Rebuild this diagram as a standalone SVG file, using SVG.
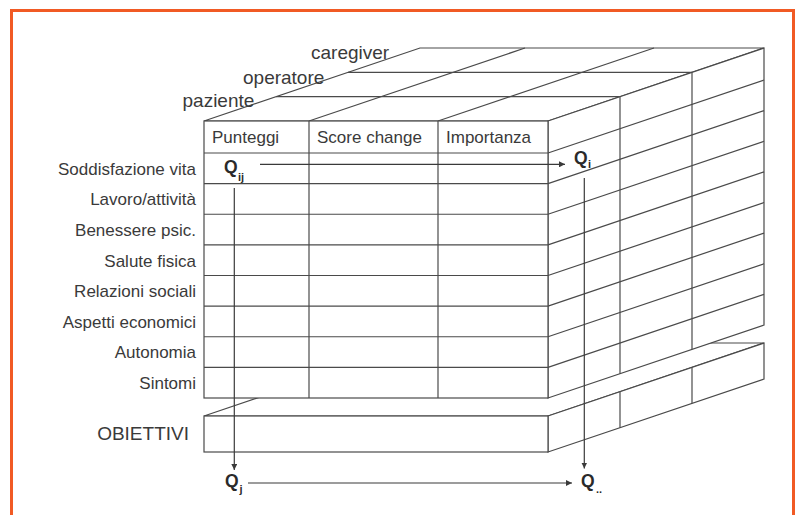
<svg xmlns="http://www.w3.org/2000/svg" width="797" height="515" viewBox="0 0 797 515">
  <defs>
    <style>
      .ln { stroke: #4a4a4a; stroke-width: 1.2; fill: none; }
      .face { stroke: #4a4a4a; stroke-width: 1.2; fill: #ffffff; stroke-linejoin: miter; }
      .lbl { font-family: "Liberation Sans", Arial, sans-serif; fill: #3a3a3a; }
      .row { font-size: 17px; text-anchor: end; }
      .hdr { font-size: 17px; }
      .big { font-size: 19px; }
      .q { font-family: "Liberation Sans", Arial, sans-serif; fill: #2a2a2a; font-weight: bold; font-size: 17.5px; }
      .qs { font-family: "Liberation Sans", Arial, sans-serif; fill: #2a2a2a; font-weight: bold; font-size: 11px; }
      .arr { stroke: #3a3a3a; stroke-width: 1.2; fill: none; marker-end: url(#ah); }
    </style>
    <marker id="ah" viewBox="0 0 10 10" refX="10" refY="5" markerWidth="6" markerHeight="6" markerUnits="userSpaceOnUse" orient="auto">
      <path d="M0,0 L10,5 L0,10 z" fill="#3a3a3a"/>
    </marker>
  </defs>

  <rect id="frame" x="11.5" y="10.5" width="782" height="530" fill="none" stroke="#f15a24" stroke-width="3"/>

  <!-- OBIETTIVI slab (behind cube) -->
  <g id="obiettivi">
    <polygon class="face" points="204,416 548,416 764,343 420,343"/>
    <polygon class="face" points="548,416 764,343 764,379 548,452"/>
    <rect class="face" x="204" y="416" width="344" height="36"/>
    <line class="ln" x1="620" y1="391.67" x2="620" y2="427.67"/>
    <line class="ln" x1="692" y1="367.33" x2="692" y2="403.33"/>
    <text class="lbl big" x="189" y="440" text-anchor="end">OBIETTIVI</text>
  </g>

  <!-- Cube -->
  <g id="cube-top">
    <polygon class="face" points="204,121 548,121 764,48 420,48"/>
    <line class="ln" x1="276" y1="96.67" x2="620" y2="96.67"/>
    <line class="ln" x1="348" y1="72.33" x2="692" y2="72.33"/>
    <line class="ln" x1="309" y1="121" x2="525" y2="48"/>
    <line class="ln" x1="438" y1="121" x2="654" y2="48"/>
  </g>

  <g id="cube-side">
    <polygon class="face" points="548,121 764,48 764,325 548,398"/>
    <line class="ln" x1="620" y1="96.67" x2="620" y2="373.67"/>
    <line class="ln" x1="692" y1="72.33" x2="692" y2="349.33"/>
    <line class="ln" x1="548" y1="153" x2="764" y2="80"/>
    <line class="ln" x1="548" y1="183.6" x2="764" y2="110.6"/>
    <line class="ln" x1="548" y1="214.25" x2="764" y2="141.25"/>
    <line class="ln" x1="548" y1="244.9" x2="764" y2="171.9"/>
    <line class="ln" x1="548" y1="275.5" x2="764" y2="202.5"/>
    <line class="ln" x1="548" y1="306.1" x2="764" y2="233.1"/>
    <line class="ln" x1="548" y1="336.75" x2="764" y2="263.75"/>
    <line class="ln" x1="548" y1="367.4" x2="764" y2="294.4"/>
  </g>

  <g id="cube-front">
    <rect class="face" x="204" y="121" width="344" height="277"/>
    <line class="ln" x1="309" y1="121" x2="309" y2="398"/>
    <line class="ln" x1="438" y1="121" x2="438" y2="398"/>
    <line class="ln" x1="204" y1="153" x2="548" y2="153"/>
    <line class="ln" x1="204" y1="183.6" x2="548" y2="183.6"/>
    <line class="ln" x1="204" y1="214.25" x2="548" y2="214.25"/>
    <line class="ln" x1="204" y1="244.9" x2="548" y2="244.9"/>
    <line class="ln" x1="204" y1="275.5" x2="548" y2="275.5"/>
    <line class="ln" x1="204" y1="306.1" x2="548" y2="306.1"/>
    <line class="ln" x1="204" y1="336.75" x2="548" y2="336.75"/>
    <line class="ln" x1="204" y1="367.4" x2="548" y2="367.4"/>
    <text class="lbl hdr" x="212" y="142.5">Punteggi</text>
    <text class="lbl hdr" x="317" y="142.5">Score change</text>
    <text class="lbl hdr" x="446" y="142.5">Importanza</text>
  </g>

  <g id="layer-labels">
    <text class="lbl big" x="311" y="58.5">caregiver</text>
    <text class="lbl big" x="243" y="83.5">operatore</text>
    <text class="lbl big" x="182.5" y="107">paziente</text>
  </g>

  <g id="row-labels">
    <text class="lbl row" x="196" y="174.8">Soddisfazione vita</text>
    <text class="lbl row" x="196" y="205.2">Lavoro/attività</text>
    <text class="lbl row" x="196" y="235.9">Benessere psic.</text>
    <text class="lbl row" x="196" y="266.5">Salute fisica</text>
    <text class="lbl row" x="196" y="297.1">Relazioni sociali</text>
    <text class="lbl row" x="196" y="327.7">Aspetti economici</text>
    <text class="lbl row" x="196" y="358.4">Autonomia</text>
    <text class="lbl row" x="196" y="389">Sintomi</text>
  </g>

  <g id="connectors">
    <line class="arr" x1="260" y1="164.3" x2="565" y2="164.3"/>
    <line class="arr" x1="234.3" y1="188" x2="234.3" y2="470"/>
    <line class="arr" x1="584.3" y1="178" x2="584.3" y2="468.5"/>
    <line class="arr" x1="248" y1="483" x2="572" y2="483"/>
  </g>

  <g id="q-ij">
    <text class="q" x="224" y="173">Q</text>
    <text class="qs" x="238" y="181">ij</text>
  </g>
  <g id="q-i">
    <text class="q" x="574" y="163.5">Q</text>
    <text class="qs" x="588" y="168">i</text>
  </g>
  <g id="q-j">
    <text class="q" x="225" y="487.3">Q</text>
    <text class="qs" x="239.5" y="493">j</text>
  </g>
  <g id="q-dd">
    <text class="q" x="581" y="487.3">Q</text>
    <text class="qs" x="596" y="493">..</text>
  </g>
</svg>
